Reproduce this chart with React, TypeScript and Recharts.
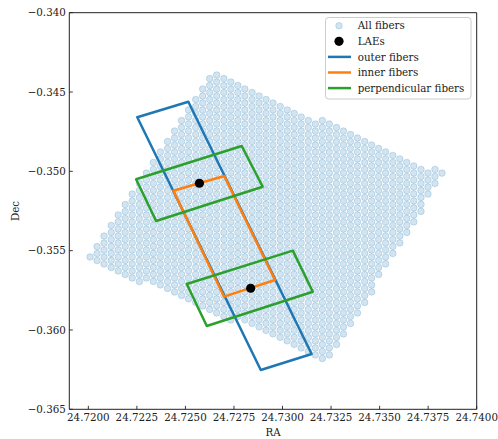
import { ScatterChart, Scatter, XAxis, YAxis, ReferenceArea } from 'recharts';

// IFU footprint, one entry per fiber column: column RA, Dec of its top fiber, fibers in the column
const fiberColumnRa = [
  24.72009, 24.72045, 24.72081, 24.72118, 24.72154, 24.7219, 24.72226, 24.72263, 24.72299, 24.72335,
  24.72371, 24.72408, 24.72444, 24.7248, 24.72516, 24.72553, 24.72589, 24.72625, 24.72661, 24.72698,
  24.72734, 24.7277, 24.72806, 24.72843, 24.72879, 24.72915, 24.72951, 24.72988, 24.73024, 24.7306,
  24.73096, 24.73133, 24.73169, 24.73205, 24.73241, 24.73278, 24.73314, 24.7335, 24.73386, 24.73423,
  24.73459, 24.73495, 24.73531, 24.73568, 24.73604, 24.7364, 24.73676, 24.73713, 24.73749, 24.73785,
  24.73821,
];
const fiberColumnTopDec = [
  -0.3554, -0.35474, -0.35408, -0.35341, -0.35275, -0.35209, -0.35143, -0.35077, -0.35011, -0.34944,
  -0.34878, -0.34812, -0.34746, -0.3468, -0.34613, -0.34547, -0.34481, -0.34415, -0.34393, -0.34415,
  -0.34437, -0.34459, -0.34481, -0.34503, -0.34525, -0.34547, -0.34569, -0.34591, -0.34613, -0.34635,
  -0.34658, -0.3468, -0.34702, -0.3468, -0.34702, -0.34724, -0.34746, -0.34768, -0.3479, -0.34812,
  -0.34834, -0.34856, -0.34878, -0.349, -0.34922, -0.34944, -0.34966, -0.34988, -0.35011, -0.34988,
  -0.35011,
];
const fiberColumnCount = [
  1, 3, 5, 7, 9, 11, 13, 15, 16, 18, 20, 22, 24, 26, 28, 30, 32, 34, 35, 35,
  35, 34, 34, 34, 34, 34, 34, 34, 34, 34, 34, 34, 34, 35, 34, 32, 30, 28, 26, 24,
  22, 19, 17, 15, 13, 11, 9, 7, 4, 3, 1,
];
const fiberPitchDec = 0.000441;

// LAE positions
const laeRa = [24.72572, 24.72836];
const laeDec = [-0.35075, -0.35737];

// fiber selections, corners in drawing order
const outerRa = [24.72252, 24.72515, 24.7315, 24.72888];
const outerDec = [-0.34659, -0.34561, -0.36151, -0.36252];
const innerRa = [24.72438, 24.727, 24.72961, 24.72699];
const innerDec = [-0.35122, -0.35029, -0.35685, -0.3579];
const perpUpperRa = [24.72246, 24.7279, 24.72898, 24.72349];
const perpUpperDec = [-0.3505, -0.3484, -0.35097, -0.35313];
const perpLowerRa = [24.72507, 24.73053, 24.73156, 24.7261];
const perpLowerDec = [-0.3571, -0.355, -0.35759, -0.35975];

const raTicks = [24.72, 24.7225, 24.725, 24.7275, 24.73, 24.7325, 24.735, 24.7375, 24.74];
const decTicks = [-0.365, -0.36, -0.355, -0.35, -0.345, -0.34];
const raDomain = [24.71902, 24.74];
const decDomain = [-0.365, -0.34];

const legendLabels = ['All fibers', 'LAEs', 'outer fibers', 'inner fibers', 'perpendicular fibers'];

const FONT = "'DejaVu Serif', serif";
const FS = 10.3;
const INK = '#222';
const C_FIBER = '#1f77b4';
const C_OUTER = '#1f77b4';
const C_INNER = '#ff7f0e';
const C_PERP = '#2ca02c';

const fibers = fiberColumnRa.flatMap((ra, i) =>
  Array.from({ length: fiberColumnCount[i] }, (_, j) => ({ ra, dec: fiberColumnTopDec[i] - j * fiberPitchDec }))
);
const laes = laeRa.map((ra, i) => ({ ra, dec: laeDec[i] }));

// closed outline; the second corner is repeated so the first corner gets a proper join
const outline = (ra: number[], dec: number[]) => {
  const pts = ra.map((r, i) => ({ ra: r, dec: dec[i] }));
  return [...pts, pts[0], pts[1]];
};

// translucent fill plus an edge of the same colour, like a matplotlib scatter marker
const FiberDot = (p: any) => (
  <circle cx={p.cx} cy={p.cy} r={3.3} fill={C_FIBER} fillOpacity={0.2} stroke={C_FIBER} strokeOpacity={0.2} strokeWidth={1} />
);
const LaeDot = (p: any) => <circle cx={p.cx} cy={p.cy} r={4.6} fill="#000" />;
const NoDot = () => <g />;

const RaTick = ({ x, y, payload }: any) => (
  <g>
    <line x1={x} y1={y} x2={x} y2={y - 3.5} stroke={INK} strokeWidth={0.9} />
    <text x={x} y={y + 11.4} textAnchor="middle" fontSize={FS} fontFamily={FONT} fill={INK}>
      {payload.value.toFixed(4)}
    </text>
  </g>
);

const DecTick = ({ x, y, payload }: any) => (
  <g>
    <line x1={x} y1={y} x2={x + 3.5} y2={y} stroke={INK} strokeWidth={0.9} />
    <text x={x - 3.5} y={y + 3.7} textAnchor="end" fontSize={FS} fontFamily={FONT} fill={INK}>
      {'\u2212' + Math.abs(payload.value).toFixed(3)}
    </text>
  </g>
);

function LegendBox() {
  const rowY = (i: number) => 25.7 + i * 15.6;
  const lineColors = [C_OUTER, C_INNER, C_PERP];
  return (
    <g>
      <rect x={325.5} y={17.5} width={145.5} height={81.5} rx={3} fill="#fff" fillOpacity={0.8} stroke="#cccccc" />
      <circle cx={339} cy={rowY(0)} r={3.3} fill={C_FIBER} fillOpacity={0.2} stroke={C_FIBER} strokeOpacity={0.2} />
      <circle cx={339} cy={rowY(1)} r={4.6} fill="#000" />
      {lineColors.map((c, i) => (
        <line key={c} x1={328} x2={351} y1={rowY(i + 2)} y2={rowY(i + 2)} stroke={c} strokeWidth={2.5} />
      ))}
      {legendLabels.map((t, i) => (
        <text key={t} x={357.7} y={rowY(i) + 3.7} fontSize={FS} fontFamily={FONT} fill={INK}>
          {t}
        </text>
      ))}
    </g>
  );
}

export default function App() {
  const lineStyle = (c: string) => ({ stroke: c, strokeWidth: 2.5, strokeLinejoin: 'round' as const });
  return (
    <div style={{ position: 'absolute', left: 0, top: 0, width: 498, height: 439, background: '#fff' }}>
      <ScatterChart width={498} height={439} margin={{ top: 12.7, right: 21.3, bottom: 0, left: 9.3 }}>
        <XAxis
          type="number"
          dataKey="ra"
          domain={raDomain}
          ticks={raTicks}
          interval={0}
          allowDataOverflow
          height={29.7}
          tickSize={0}
          tickMargin={0}
          tickLine={false}
          axisLine={false}
          tick={<RaTick />}
        />
        <YAxis
          type="number"
          dataKey="dec"
          domain={decDomain}
          ticks={decTicks}
          interval={0}
          allowDataOverflow
          width={60}
          tickSize={0}
          tickMargin={0}
          tickLine={false}
          axisLine={false}
          tick={<DecTick />}
        />
        <Scatter name="All fibers" data={fibers} shape={FiberDot} isAnimationActive={false} />
        <Scatter name="outer fibers" data={outline(outerRa, outerDec)} fill={C_OUTER} line={lineStyle(C_OUTER)} shape={NoDot} isAnimationActive={false} />
        <Scatter name="inner fibers" data={outline(innerRa, innerDec)} fill={C_INNER} line={lineStyle(C_INNER)} shape={NoDot} isAnimationActive={false} />
        <Scatter name="perpendicular fibers" data={outline(perpUpperRa, perpUpperDec)} fill={C_PERP} line={lineStyle(C_PERP)} shape={NoDot} isAnimationActive={false} />
        <Scatter data={outline(perpLowerRa, perpLowerDec)} fill={C_PERP} line={lineStyle(C_PERP)} shape={NoDot} legendType="none" isAnimationActive={false} />
        <Scatter name="LAEs" data={laes} shape={LaeDot} isAnimationActive={false} />
        <ReferenceArea
          x1={raDomain[0]}
          x2={raDomain[1]}
          y1={decDomain[0]}
          y2={decDomain[1]}
          fill="none"
          stroke={INK}
          strokeWidth={1}
          fillOpacity={0}
        />
      </ScatterChart>
      <svg width={498} height={439} style={{ position: 'absolute', left: 0, top: 0, pointerEvents: 'none' }}>
        <text x={273} y={436} textAnchor="middle" fontSize={FS} fontFamily={FONT} fill={INK}>
          RA
        </text>
        <text transform="translate(19,211) rotate(-90)" textAnchor="middle" fontSize={FS} fontFamily={FONT} fill={INK}>
          Dec
        </text>
        <LegendBox />
      </svg>
    </div>
  );
}
